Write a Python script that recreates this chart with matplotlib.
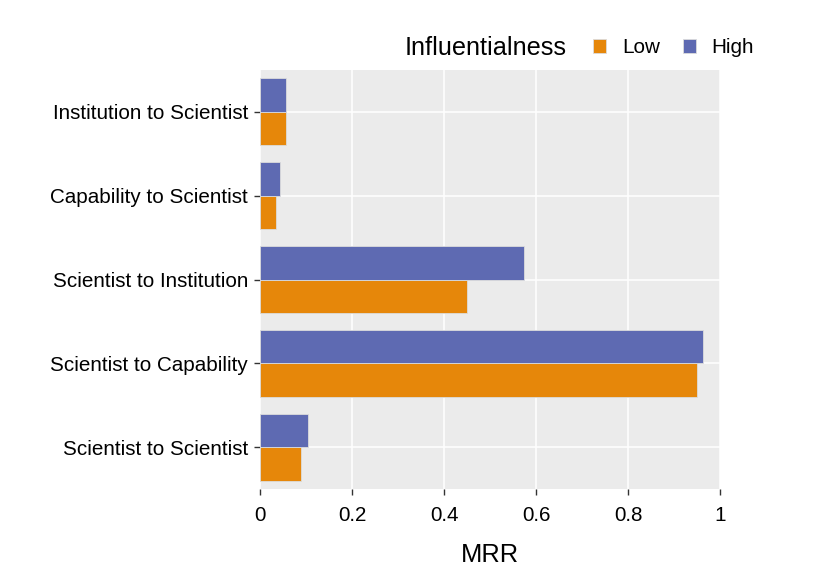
import numpy as np
import matplotlib.pyplot as plt

plt.rcParams['font.family'] = ['Liberation Sans', 'DejaVu Sans']

# categories bottom to top
categories = ['Scientist to Scientist', 'Scientist to Capability', 'Scientist to Institution',
              'Capability to Scientist', 'Institution to Scientist']
low = [0.088, 0.948, 0.449, 0.035, 0.057]
high = [0.105, 0.963, 0.573, 0.044, 0.057]
xticks = [0, 0.2, 0.4, 0.6, 0.8, 1]
xticklabels = ['0', '0.2', '0.4', '0.6', '0.8', '1']

c_low = '#E6870A'
c_high = '#5E6AB2'

fig = plt.figure(figsize=(8.14, 5.82), dpi=100)
ax = fig.add_axes([0.3194, 0.1598, 0.5657, 0.7199])
ax.set_facecolor('#EBEBEB')

y = np.arange(len(categories))
w = 0.4
ax.barh(y - w/2, low, height=w, color=c_low, edgecolor='#dcdcdc', linewidth=0.6, label='Low', zorder=3)
ax.barh(y + w/2, high, height=w, color=c_high, edgecolor='#dcdcdc', linewidth=0.6, label='High', zorder=3)

ax.set_xlim(0, 1)
ax.set_ylim(-0.5, len(categories) - 0.5)
ax.set_xticks(xticks)
ax.set_xticklabels(xticklabels)
ax.set_yticks(y)
ax.set_yticklabels(categories)
ax.grid(True, color='white', linewidth=1.1, zorder=0)
ax.set_axisbelow(True)
for s in ax.spines.values():
    s.set_visible(False)
ax.tick_params(axis='both', labelsize=14.9, colors='#333333', labelcolor='black',
               length=4, width=1)
ax.tick_params(axis='x', pad=8)
ax.tick_params(axis='y', pad=4.5)
ax.set_xlabel('MRR', fontsize=18.4, labelpad=13)

fig.text(0.4975, 0.918, 'Influentialness', fontsize=18.2, va='center', ha='left')
ax.legend(loc='center left', bbox_to_anchor=(0.7285, 0.918), bbox_transform=fig.transFigure,
          ncol=2, frameon=False, fontsize=14.9, handlelength=0.65, handleheight=0.65,
          handletextpad=0.75, columnspacing=1.1, borderaxespad=0, borderpad=0)

fig.savefig('out.png', dpi=100)
